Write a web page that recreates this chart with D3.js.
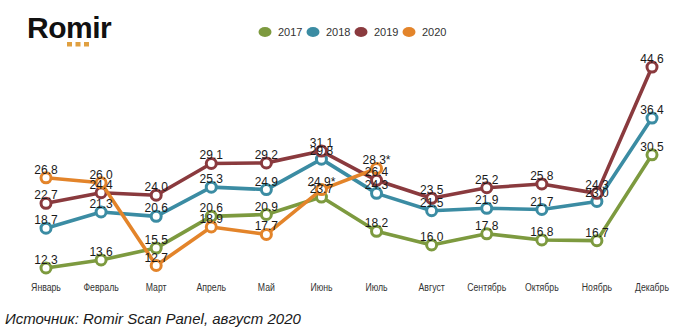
<!DOCTYPE html>
<html>
<head>
<meta charset="utf-8">
<script src="https://cdn.jsdelivr.net/npm/d3@7"></script>
<style>
  body { margin: 0; background: #fff; }
  svg { display: block; font-family: "Liberation Sans", Arial, sans-serif; }
</style>
</head>
<body>
<svg id="chart" width="685" height="331"></svg>
<script>
const months = ['Январь', 'Февраль', 'Март', 'Апрель', 'Май', 'Июнь', 'Июль',
    'Август', 'Сентябрь', 'Октябрь', 'Ноябрь', 'Декабрь'];
const years = ['2017', '2018', '2019', '2020'];
const colors = ['#7d9a3f', '#3b8ca3', '#8a3a3e', '#e3842a'];

const values2017 = [12.3, 13.6, 15.5, 20.6, 20.9, 23.7, 18.2, 16.0, 17.8, 16.8, 16.7, 30.5];
const values2018 = [18.7, 21.3, 20.6, 25.3, 24.9, 29.8, 24.3, 21.5, 21.9, 21.7, 23.0, 36.4];
const values2019 = [22.7, 24.4, 24.0, 29.1, 29.2, 31.1, 26.4, 23.5, 25.2, 25.8, 24.3, 44.6];
const values2020 = [26.8, 26.0, 12.7, 18.9, 17.7, 24.9, 28.3];
// preliminary figures get an asterisk
const starred2020 = [false, false, false, false, false, true, true];

const series = [values2017, values2018, values2019, values2020].map((vals, i) => ({
    year: years[i],
    color: colors[i],
    points: vals.map((v, j) => ({
        month: months[j],
        value: v,
        label: v.toFixed(1) + (i === 3 && starred2020[j] ? '*' : '')
    }))
}));

const svg = d3.select('#chart');

const x = d3.scalePoint().domain(months).range([46, 652]);
const y = d3.scaleLinear().domain([10, 45]).range([282.3, 64.6]);

// logo
const logo = svg.append('g');
logo.append('text')
    .attr('x', 27).attr('y', 38)
    .attr('font-size', 30).attr('font-weight', 'bold')
    .attr('fill', '#111')
    .attr('letter-spacing', -0.5)
    .text('Romir');
[0, 1, 2].forEach(i => {
    logo.append('rect')
        .attr('x', 67 + i * 8.5).attr('y', 42)
        .attr('width', 5).attr('height', 4.5)
        .attr('fill', '#e0a040');
});

// legend
const legend = svg.append('g');
const legendX = [265, 313, 361, 409];
series.forEach((s, i) => {
    const g = legend.append('g').attr('transform', `translate(${legendX[i]},32)`);
    g.append('ellipse').attr('rx', 6.5).attr('ry', 5).attr('fill', s.color);
    g.append('text')
        .attr('x', 13).attr('y', 4)
        .attr('font-size', 11).attr('fill', '#333')
        .text(s.year);
});

// month axis labels, slightly condensed
svg.append('g').selectAll('text')
    .data(months)
    .join('text')
    .attr('transform', d => `translate(${x(d)},291) scale(0.87,1)`)
    .attr('text-anchor', 'middle')
    .attr('font-size', 10)
    .attr('fill', '#333')
    .text(d => d);

const line = d3.line()
    .x(d => x(d.month))
    .y(d => y(d.value));

const plot = svg.append('g');

series.forEach(s => {
    const g = plot.append('g');
    g.append('path')
        .datum(s.points)
        .attr('d', line)
        .attr('fill', 'none')
        .attr('stroke', s.color)
        .attr('stroke-width', 3.6)
        .attr('stroke-linejoin', 'round');
    g.selectAll('circle')
        .data(s.points)
        .join('circle')
        .attr('cx', d => x(d.month))
        .attr('cy', d => y(d.value))
        .attr('r', 5)
        .attr('fill', '#fff')
        .attr('stroke', s.color)
        .attr('stroke-width', 3);
});

// value labels on top of everything
const labels = svg.append('g');
series.forEach(s => {
    labels.selectAll(null)
        .data(s.points)
        .join('text')
        .attr('x', d => x(d.month))
        .attr('y', d => y(d.value) - 4)
        .attr('text-anchor', 'middle')
        .attr('font-size', 12)
        .attr('fill', '#1a1a1a')
        .text(d => d.label);
});

// source note
svg.append('text')
    .attr('x', 5).attr('y', 324)
    .attr('font-size', 15)
    .attr('font-style', 'italic')
    .attr('fill', '#1a1a1a')
    .text('Источник: Romir Scan Panel, август 2020');
</script>
</body>
</html>
